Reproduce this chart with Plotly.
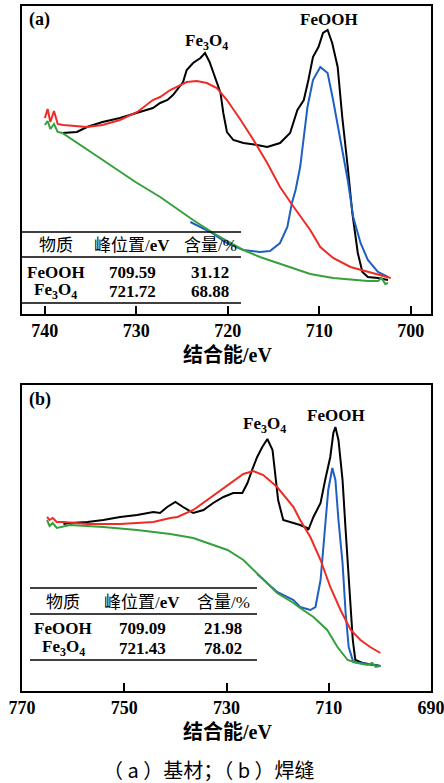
import plotly.graph_objects as go

W, H = 444, 783
OX, OY = 0, 0

# ---------------- panel (a) data: binding energy (eV) / intensity (a.u.) ----------------
a_black_ev = [738.1, 736.5, 735.4, 733.7, 731.8, 729.9, 728.2, 727.4, 726.6, 726.0,
              724.9, 724.5, 723.8, 723.0, 722.5, 722.0, 721.4, 720.8, 720.5, 720.1,
              719.4, 718.3, 716.8, 715.7, 714.3, 713.2, 712.4, 711.7, 711.2, 710.7,
              710.1, 709.6, 709.1, 708.6, 708.0, 707.5, 706.9, 706.4, 705.8, 705.3,
              704.7, 703.6, 702.5]
a_black_i = [181, 182, 187, 192, 196, 201, 206, 211, 214, 219,
             232, 244, 251, 256, 261, 252, 237, 221, 201, 182,
             174, 171, 169, 167, 171, 181, 204, 214, 234, 257,
             267, 281, 284, 271, 247, 197, 147, 101, 61, 42,
             37, 36, 34]

a_red_ev = [740.0, 739.7, 739.4, 739.0, 738.6, 738.0, 735.4, 733.7, 731.8, 729.9,
            728.2, 727.4, 726.3, 724.5, 723.4, 722.3, 721.2, 720.1, 718.6, 717.2,
            715.7, 714.3, 712.8, 711.0, 709.9, 708.5, 706.6, 704.7, 703.3, 702.2]
a_red_i = [196, 205, 192, 203, 190, 189, 187, 189, 194, 202,
           214, 217, 224, 232, 233, 231, 226, 214, 194, 174,
           151, 127, 107, 84, 67, 56, 47, 42, 39, 36]

a_green_ev = [740.0, 739.7, 739.4, 739.0, 738.6, 738.1, 734.0, 730.1, 727.4, 723.8,
              721.6, 718.3, 716.5, 712.8, 711.0, 708.5, 704.7, 703.6, 703.2, 702.8,
              702.5]
a_green_i = [189, 193, 185, 190, 182, 181, 156, 132, 117, 94,
             81, 64, 57, 46, 40, 36, 33, 33, 36, 30,
             31]

a_blue_ev = [724.1, 721.9, 720.1, 718.3, 716.5, 715.4, 714.3, 713.5, 713.0, 712.6,
             712.1, 711.3, 710.7, 709.9, 709.1, 708.5, 707.7, 706.9, 706.3, 705.5,
             704.7, 703.6, 702.5]
a_blue_i = [92, 82, 71, 64, 62, 63, 71, 87, 111, 124,
            147, 207, 234, 247, 241, 214, 174, 134, 97, 71,
            54, 42, 37]

# ---------------- panel (b) data ----------------
b_black_ev = [761.9, 760.6, 757.2, 754.1, 750.8, 747.5, 744.3, 743.0, 741.6, 740.0,
              738.5, 736.5, 734.5, 732.6, 730.6, 728.7, 726.9, 725.9, 725.0, 724.0,
              723.0, 722.0, 721.0, 720.5, 719.9, 718.9, 717.5, 715.6, 714.2, 714.0,
              713.0, 711.6, 710.7, 709.7, 709.1, 708.7, 708.1, 707.3, 706.7, 706.1,
              705.3, 704.8, 703.4, 699.9]
b_black_i = [167, 168, 169, 171, 174, 176, 179, 178, 184, 189,
             184, 178, 181, 188, 194, 198, 198, 208, 221, 234,
             244, 252, 241, 218, 191, 171, 169, 166, 163, 161,
             174, 188, 211, 234, 258, 264, 251, 211, 161, 111,
             51, 31, 28, 25]

b_red_ev = [765.1, 764.6, 764.0, 763.2, 761.9, 757.2, 750.8, 744.3, 741.0, 739.6,
            736.5, 733.2, 729.8, 726.7, 724.8, 722.8, 720.1, 716.9, 715.6, 713.6,
            711.6, 709.7, 707.7, 705.7, 703.8, 701.9, 699.9]
b_red_i = [174, 171, 173, 169, 169, 167, 167, 169, 173, 174,
           181, 193, 206, 217, 220, 216, 204, 184, 171, 154,
           131, 104, 81, 61, 51, 44, 38]

b_green_ev = [765.1, 764.6, 764.0, 763.2, 760.6, 754.1, 747.5, 741.0, 736.5, 729.8,
              726.7, 723.4, 720.1, 716.9, 715.6, 713.0, 710.3, 708.3, 706.3, 704.4,
              702.4, 701.5, 700.8, 699.9]
b_green_i = [171, 165, 168, 163, 166, 164, 161, 157, 153, 141,
             131, 114, 98, 88, 83, 74, 61, 44, 31, 28,
             26, 28, 24, 25]

b_blue_ev = [724.0, 720.1, 716.9, 715.6, 713.6, 712.6, 711.6, 710.7, 710.1, 709.3,
             708.7, 708.1, 707.3, 706.7, 706.1, 705.2, 702.4, 699.9]
b_blue_i = [117, 99, 91, 84, 81, 84, 111, 161, 201, 223,
            211, 171, 128, 78, 44, 29, 27, 25]

# tick labels
a_ticks = [740, 730, 720, 710, 700]
b_ticks = [770, 750, 730, 710, 690]

# tables
tbl_header = ["物质", "峰位置/<b>eV</b>", "含量/%"]
tbl_species = ["<b>FeOOH</b>", "<b>Fe<sub>3</sub>O<sub>4</sub></b>"]
a_peak_pos = ["709.59", "721.72"]
a_content = ["31.12", "68.88"]
b_peak_pos = ["709.09", "721.43"]
b_content = ["21.98", "78.02"]

BLACK = "#000000"
RED = "#ee2b25"
BLUE = "#1f5fc0"
GREEN = "#35a03c"

SERIF = "Liberation Serif, Times New Roman, DejaVu Serif, serif"
LAT = "Liberation Serif, Times New Roman, Noto Sans CJK SC, serif"


def px(x):
    return (x - OX) / W


def py(y):
    return 1 - (y - OY) / H


fig = go.Figure()

for ev, it, col, xa, ya in [
    (a_black_ev, a_black_i, BLACK, "x", "y"),
    (a_blue_ev, a_blue_i, BLUE, "x", "y"),
    (a_green_ev, a_green_i, GREEN, "x", "y"),
    (a_red_ev, a_red_i, RED, "x", "y"),
    (b_black_ev, b_black_i, BLACK, "x2", "y2"),
    (b_blue_ev, b_blue_i, BLUE, "x2", "y2"),
    (b_green_ev, b_green_i, GREEN, "x2", "y2"),
    (b_red_ev, b_red_i, RED, "x2", "y2"),
]:
    fig.add_trace(go.Scatter(x=ev, y=it, mode="lines", xaxis=xa, yaxis=ya,
                             line=dict(color=col, width=2), showlegend=False,
                             hoverinfo="skip"))

axis_common = dict(showline=True, linecolor="black", linewidth=1.6, mirror=True,
                   showgrid=False, zeroline=False, automargin=False)
xtick = dict(ticks="inside", ticklen=8, tickwidth=1.6, tickcolor="black",
             ticklabeloverflow="allow",
             tickfont=dict(family=SERIF, size=18, color="black", weight="bold"))

fig.update_layout(
    width=W, height=H, autosize=False,
    margin=dict(l=0, r=0, t=0, b=0, autoexpand=False),
    paper_bgcolor="white", plot_bgcolor="white",
    xaxis=dict(domain=[px(22), px(431)], range=[742.5, 697.8], anchor="y",
               tickvals=a_ticks, ticktext=[str(t) for t in a_ticks],
               **axis_common, **xtick),
    yaxis=dict(domain=[py(314), py(6)], range=[0, 308], anchor="x",
               showticklabels=False, ticks="", **axis_common),
    xaxis2=dict(domain=[px(22), px(431)], range=[770, 690], anchor="y2",
                tickvals=b_ticks, ticktext=[str(t) for t in b_ticks],
                **axis_common, **xtick),
    yaxis2=dict(domain=[py(691), py(385)], range=[0, 306], anchor="x2",
                showticklabels=False, ticks="", **axis_common),
)

ann = []
shapes = []


def text(x, y, s, size=17, bold=False, xref="paper", yref="paper", conv=True, family=LAT):
    ann.append(dict(x=px(x) if conv else x, y=py(y) if conv else y, xref=xref, yref=yref,
                    text=s, showarrow=False, xanchor="center", yanchor="middle",
                    font=dict(family=family, size=size, color="black",
                              weight="bold" if bold else "normal")))


# panel letters
text(39, 20, "(a)", size=18, bold=True)
text(40, 399, "(b)", size=18, bold=True)

# peak labels in data coordinates
text(722.3, 272, "Fe<sub>3</sub>O<sub>4</sub>", size=17, bold=True, xref="x", yref="y", conv=False)
text(708.9, 294, "FeOOH", size=17, bold=True, xref="x", yref="y", conv=False)
text(722.6, 266, "Fe<sub>3</sub>O<sub>4</sub>", size=17, bold=True, xref="x2", yref="y2", conv=False)
text(708.5, 276, "FeOOH", size=17, bold=True, xref="x2", yref="y2", conv=False)

# axis titles
text(227, 355, "结合能/eV", size=20, bold=True)
text(227, 732, "结合能/eV", size=20, bold=True)

# caption
text(209, 769, "（ a ）基材；（ b ）焊缝", size=20,
     family="Noto Sans CJK SC, Liberation Serif, serif")


def table(x0, x1, ys, cols, hy, rows_y, pos, cont):
    for yy in ys:
        shapes.append(dict(type="line", xref="paper", yref="paper",
                           x0=px(x0), x1=px(x1), y0=py(yy), y1=py(yy),
                           line=dict(color="black", width=1.6)))
    for c, h in zip(cols, tbl_header):
        text(c, hy, h, size=17)
    for r, ry in enumerate(rows_y):
        text(cols[0], ry, tbl_species[r], size=17)
        text(cols[1], ry, "<b>%s</b>" % pos[r], size=17)
        text(cols[2], ry, "<b>%s</b>" % cont[r], size=17)


table(22, 241, [232, 257, 303], [56, 132, 210], 245, [272, 291], a_peak_pos, a_content)
table(30, 257, [588, 614, 660], [63, 142, 223], 602, [628, 648], b_peak_pos, b_content)

fig.update_layout(annotations=ann, shapes=shapes)
fig.write_html(
    "out.html",
    config={"displayModeBar": False},
    post_script="document.body.style.margin='0';document.body.style.padding='0';"
                "document.documentElement.style.overflow='hidden';",
)
